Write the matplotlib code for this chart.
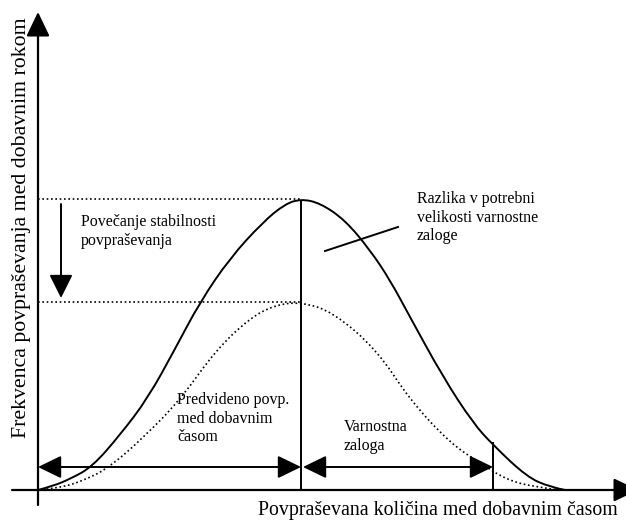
import numpy as np
import matplotlib as mpl
mpl.use('Agg')
import matplotlib.pyplot as plt
from matplotlib.patches import FancyArrowPatch, PathPatch
from matplotlib.path import Path

plt.rcParams['font.family'] = ['Liberation Serif', 'DejaVu Serif']

# curves (pixel units, y grows downwards)
solid_x = [38, 53, 70, 92, 120, 148, 175, 200, 230, 263, 285, 301, 320, 345, 370, 390, 410, 443, 473, 493, 527, 550, 565]
solid_y = [490, 486, 479, 467, 435, 398, 349, 302, 258, 222, 204, 199, 203, 220, 250, 280, 317, 377, 423, 445, 477, 487, 490]

dotted_x = [38, 60, 85, 110, 145, 180, 216, 250, 275, 301, 333, 377, 410, 450, 480, 507, 535, 560]
dotted_y = [490, 488, 480, 467, 436, 400, 350, 318, 305, 302, 312, 350, 400, 443, 463, 480, 487, 490]

# key levels
axis_x, axis_y = 38, 490
peak_x = 301
peak_hi, peak_lo = 199, 302
safety_x = 493
arrow_y = 467

y_label = "Frekvenca povpraševanja med dobavnim rokom"
x_label = "Povpraševana količina med dobavnim časom"
txt_stab = "Povečanje stabilnosti\npovpraševanja"
txt_razl = "Razlika v potrebni\nvelikosti varnostne\nzaloge"
txt_pred = "Predvideno povp.\nmed dobavnim\nčasom"
txt_varn = "Varnostna\nzaloga"

fig = plt.figure(figsize=(6.26, 5.22), dpi=100)
ax = fig.add_axes([0, 0, 1, 1])
ax.set_xlim(0, 626)
ax.set_ylim(522, 0)
ax.axis('off')

DOT = (0, (1, 1.6))

def arrow(p0, p1, style, hl=14.4, hw=7.2, lw=1.4):
    a = FancyArrowPatch(p0, p1, arrowstyle=f"{style},head_length={hl},head_width={hw}",
                        mutation_scale=1, shrinkA=0, shrinkB=0,
                        color='black', lw=lw, clip_on=True)
    ax.add_patch(a)

def smooth(xs, ys, **kw):
    # quadratic bezier chain through the read points, drawn by matplotlib's Path
    pts = np.column_stack([xs, ys]).astype(float)
    verts = [pts[0]]
    codes = [Path.MOVETO]
    for i in range(1, len(pts) - 2):
        verts += [pts[i], (pts[i] + pts[i + 1]) / 2]
        codes += [Path.CURVE3, Path.CURVE3]
    verts += [pts[-2], pts[-1]]
    codes += [Path.CURVE3, Path.CURVE3]
    ax.add_patch(PathPatch(Path(verts, codes), fill=False, edgecolor='black', **kw))

# axes with arrow heads
arrow((axis_x, 505), (axis_x, 12), '-|>', hl=15, hw=7.2, lw=1.6)
arrow((12, axis_y), (638, axis_y), '-|>', hl=15, hw=7.2, lw=1.6)

# curves
smooth(solid_x, solid_y, lw=1.4)
smooth(dotted_x, dotted_y, lw=1.2, linestyle=DOT)

# dotted level lines
ax.plot([axis_x, peak_x], [peak_hi, peak_hi], color='black', lw=1.2, linestyle=DOT)
ax.plot([axis_x, peak_x], [peak_lo, peak_lo], color='black', lw=1.2, linestyle=DOT)

# verticals
ax.plot([peak_x, peak_x], [peak_hi + 2, axis_y], color='black', lw=1.4)
ax.plot([safety_x, safety_x], [443, axis_y], color='black', lw=1.4)

# double arrows
arrow((axis_x, arrow_y), (peak_x, arrow_y), '<|-|>', hl=14.4, hw=7)
arrow((peak_x + 2, arrow_y), (safety_x, arrow_y), '<|-|>', hl=14.4, hw=7)

# down arrow
arrow((61, 204), (61, 298), '-|>', hl=14.4, hw=7.2)

# pointer line
ax.plot([325, 398], [251, 227], color='black', lw=1.4)

fs = 11.5
ax.text(81, 214, txt_stab, fontsize=fs, va='top', ha='left', linespacing=1.22)
ax.text(417, 191, txt_razl, fontsize=fs, va='top', ha='left', linespacing=1.22)
ax.text(177, 392, txt_pred, fontsize=fs, va='top', ha='left', linespacing=1.22)
ax.text(344, 419, txt_varn, fontsize=fs, va='top', ha='left', linespacing=1.22)

ax.text(618, 511, x_label, fontsize=14.3, va='center', ha='right')
ax.text(22, 228, y_label, fontsize=15.7, va='center', ha='center', rotation=90)

fig.savefig('out.png', dpi=100)
